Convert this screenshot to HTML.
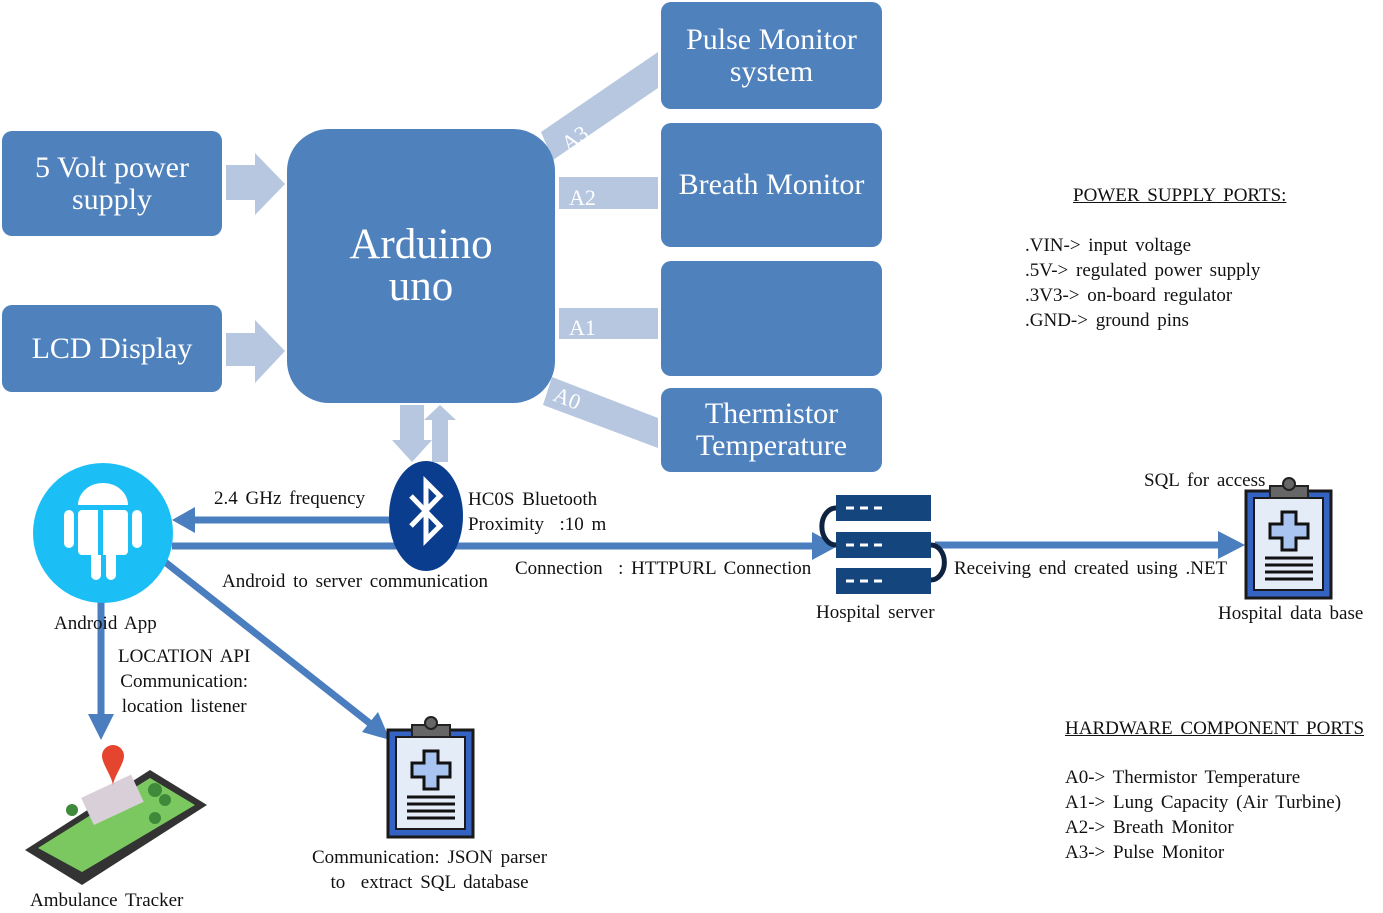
<!DOCTYPE html>
<html><head><meta charset="utf-8"><style>
body{margin:0;width:1383px;height:907px;background:#fff;position:relative;overflow:hidden;font-family:"Liberation Serif",serif}
.b{position:absolute;background:#4f81bd;border-radius:10px;color:#fff;display:flex;align-items:center;justify-content:center;text-align:center;font-size:30px;line-height:32px}
.t{position:absolute;font-size:19px;color:#111;white-space:nowrap;line-height:25px;word-spacing:3px}
svg{position:absolute;left:0;top:0}
</style></head><body>
<svg width="1383" height="907">
<g fill="#b7c7e0">
<polygon points="226,165 255,165 255,153 285,184 255,215 255,200 226,200"/>
<polygon points="226,333 255,333 255,320 285,351 255,383 255,366 226,366"/>
<polygon points="541,132 658,52 658,88 553,160"/>
<rect x="559" y="177" width="99" height="32"/>
<rect x="559" y="308" width="99" height="31"/>
<polygon points="552,377 658,418 658,448 543,405"/>
<polygon points="400,405 424,405 424,440 432,440 412,462 392,440 400,440"/>
<polygon points="432,462 448,462 448,420 456,420 440,405 424,420 432,420"/>
</g>
<g fill="#fff" font-family="Liberation Serif" font-size="22">
<text x="568" y="152" transform="rotate(-35 568 152)">A3</text>
<text x="569" y="205">A2</text>
<text x="569" y="335">A1</text>
<text x="552" y="400" transform="rotate(22 552 400)">A0</text>
</g>
<g stroke="#4a7ebf" stroke-width="7" fill="#4a7ebf">
<line x1="392" y1="520" x2="190" y2="520"/>
<polygon points="172,520 195,507 195,533" stroke="none"/>
<line x1="172" y1="546" x2="815" y2="546"/>
<polygon points="838,546 812,532 812,560" stroke="none"/>
<line x1="935" y1="545" x2="1220" y2="545"/>
<polygon points="1245,545 1218,531 1218,559" stroke="none"/>
<line x1="101" y1="600" x2="101" y2="715"/>
<polygon points="101,740 88,714 114,714" stroke="none"/>
<line x1="165" y1="562" x2="372" y2="725"/>
<polygon points="390,740 362,732 378,712" stroke="none"/>
</g>
<ellipse cx="426" cy="516" rx="37" ry="55" fill="#0b3d8e"/>
<polyline points="411,496 440,526 426,540 426,482 440,496 411,526" fill="none" stroke="#fff" stroke-width="5"/>
<circle cx="103" cy="533" r="70" fill="#1bbff5"/>
<g fill="#fff">
<path d="M78,505 a25,22 0 0 1 50,0 z"/>
<rect x="78" y="510" width="50" height="45" rx="4"/>
<rect x="64" y="510" width="10" height="38" rx="5"/>
<rect x="132" y="510" width="10" height="38" rx="5"/>
<rect x="91" y="550" width="10" height="30" rx="5"/>
<rect x="106" y="550" width="10" height="30" rx="5"/>
</g>
<rect x="98" y="510" width="5" height="45" fill="#1bbff5"/>
<g>
<rect x="836" y="495" width="95" height="26" fill="#14457d"/>
<rect x="836" y="532" width="95" height="26" fill="#14457d"/>
<rect x="836" y="568" width="95" height="26" fill="#14457d"/>
<path d="M836,508 a13,17 0 0 0 0,37" fill="none" stroke="#0d2340" stroke-width="5"/>
<path d="M931,545 a13,17 0 0 1 0,35" fill="none" stroke="#0d2340" stroke-width="5"/>
<g stroke="#fff" stroke-width="3"><line x1="846" y1="508" x2="888" y2="508" stroke-dasharray="8,6"/><line x1="846" y1="545" x2="888" y2="545" stroke-dasharray="8,6"/><line x1="846" y1="581" x2="888" y2="581" stroke-dasharray="8,6"/></g>
</g>
<g id="cb">
<rect x="1246" y="491" width="85" height="107" fill="#3563c4" stroke="#1a1a1a" stroke-width="3"/>
<rect x="1254" y="498" width="69" height="92" fill="#e4ecf8" stroke="#1a1a1a" stroke-width="2"/>
<rect x="1270" y="486" width="38" height="12" fill="#666" stroke="#222" stroke-width="2"/>
<circle cx="1289" cy="484" r="6" fill="#666" stroke="#222" stroke-width="2"/>
<path d="M1282,512 h14 v12 h12 v14 h-12 v12 h-14 v-12 h-12 v-14 h12 z" fill="#a9c4f0" stroke="#111" stroke-width="3"/>
<g stroke="#111" stroke-width="3"><line x1="1265" y1="558" x2="1313" y2="558"/><line x1="1265" y1="565" x2="1313" y2="565"/><line x1="1265" y1="572" x2="1313" y2="572"/><line x1="1265" y1="579" x2="1313" y2="579"/></g>
</g>
<use href="#cb" transform="translate(-858,239)"/>
<polygon points="25,850 150,770 207,805 82,885" fill="#333"/>
<polygon points="38,848 150,778 195,805 82,872" fill="#7cc860"/>
<g fill="#3f8a3a"><circle cx="155" cy="790" r="7"/><circle cx="165" cy="800" r="6"/><circle cx="72" cy="810" r="6"/><circle cx="155" cy="818" r="6"/></g>
<rect x="85" y="785" width="55" height="30" fill="#d9cfd8" transform="rotate(-25 112 800)"/>
<path d="M113,745 a11,11 0 0 1 11,11 c0,8 -11,22 -11,30 c0,-8 -11,-22 -11,-30 a11,11 0 0 1 11,-11z" fill="#e5452f"/>
</svg>
<div class="b" style="left:2px;top:131px;width:220px;height:105px">5 Volt power<br>supply</div>
<div class="b" style="left:2px;top:305px;width:220px;height:87px">LCD Display</div>
<div class="b" style="left:287px;top:129px;width:268px;height:274px;border-radius:42px;font-size:43px;line-height:42px">Arduino<br>uno</div>
<div class="b" style="left:661px;top:2px;width:221px;height:107px">Pulse Monitor<br>system</div>
<div class="b" style="left:661px;top:123px;width:221px;height:124px">Breath Monitor</div>
<div class="b" style="left:661px;top:261px;width:221px;height:115px"></div>
<div class="b" style="left:661px;top:388px;width:221px;height:84px">Thermistor<br>Temperature</div>
<div class="t" style="left:214px;top:486px">2.4 GHz frequency</div>
<div class="t" style="left:468px;top:487px">HC0S Bluetooth<br>Proximity &nbsp;:10 m</div>
<div class="t" style="left:222px;top:569px">Android to server communication</div>
<div class="t" style="left:515px;top:556px">Connection &nbsp;: HTTPURL Connection</div>
<div class="t" style="left:954px;top:556px">Receiving end created using .NET</div>
<div class="t" style="left:816px;top:600px">Hospital server</div>
<div class="t" style="left:1144px;top:468px">SQL for access</div>
<div class="t" style="left:1218px;top:601px">Hospital data base</div>
<div class="t" style="left:54px;top:611px">Android App</div>
<div class="t" style="left:118px;top:644px;text-align:center">LOCATION API<br>Communication:<br>location listener</div>
<div class="t" style="left:312px;top:845px;text-align:center">Communication: JSON parser<br>to &nbsp;extract SQL database</div>
<div class="t" style="left:30px;top:888px">Ambulance Tracker</div>
<div class="t" style="left:1073px;top:183px;text-decoration:underline">POWER SUPPLY PORTS:</div>
<div class="t" style="left:1025px;top:233px">.VIN-&gt; input voltage<br>.5V-&gt; regulated power supply<br>.3V3-&gt; on-board regulator<br>.GND-&gt; ground pins</div>
<div class="t" style="left:1065px;top:716px;text-decoration:underline">HARDWARE COMPONENT PORTS</div>
<div class="t" style="left:1065px;top:765px">A0-&gt; Thermistor Temperature<br>A1-&gt; Lung Capacity (Air Turbine)<br>A2-&gt; Breath Monitor<br>A3-&gt; Pulse Monitor</div>
</body></html>
